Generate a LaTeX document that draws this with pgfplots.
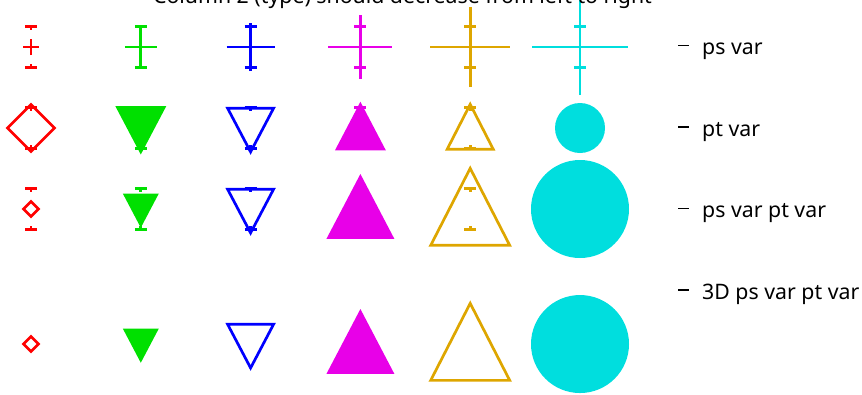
\documentclass[border=0pt]{standalone}
\usepackage{fontspec}
\setmainfont{Noto Sans}
\usepackage{pgfplots}
\pgfplotsset{compat=1.18}

\definecolor{cred}{RGB}{255,0,0}
\definecolor{cgreen}{RGB}{0,224,0}
\definecolor{cblue}{RGB}{0,0,255}
\definecolor{cmag}{RGB}{232,0,232}
\definecolor{corange}{RGB}{222,166,0}
\definecolor{ccyan}{RGB}{0,222,222}

% gnuplot-like point types, mark size = half width
\pgfdeclareplotmark{gplus}{%
  \pgfpathmoveto{\pgfpoint{-\pgfplotmarksize}{0pt}}%
  \pgfpathlineto{\pgfpoint{\pgfplotmarksize}{0pt}}%
  \pgfpathmoveto{\pgfpoint{0pt}{-\pgfplotmarksize}}%
  \pgfpathlineto{\pgfpoint{0pt}{\pgfplotmarksize}}%
  \pgfusepathqstroke}
\pgfdeclareplotmark{gdiamond}{%
  \pgfpathmoveto{\pgfpoint{0pt}{\pgfplotmarksize}}%
  \pgfpathlineto{\pgfpoint{\pgfplotmarksize}{0pt}}%
  \pgfpathlineto{\pgfpoint{0pt}{-\pgfplotmarksize}}%
  \pgfpathlineto{\pgfpoint{-\pgfplotmarksize}{0pt}}%
  \pgfpathclose\pgfusepathqstroke}
\def\downpath{%
  \pgfpathmoveto{\pgfpoint{-\pgfplotmarksize}{0.86\pgfplotmarksize}}%
  \pgfpathlineto{\pgfpoint{\pgfplotmarksize}{0.86\pgfplotmarksize}}%
  \pgfpathlineto{\pgfpoint{0pt}{-1.04\pgfplotmarksize}}%
  \pgfpathclose}
\def\uppath#1{%
  \pgfpathmoveto{\pgfpoint{-\pgfplotmarksize}{-#1\pgfplotmarksize}}%
  \pgfpathlineto{\pgfpoint{\pgfplotmarksize}{-#1\pgfplotmarksize}}%
  \pgfpathlineto{\pgfpoint{0pt}{1.03\pgfplotmarksize}}%
  \pgfpathclose}
\pgfdeclareplotmark{gdown}{\downpath\pgfusepathqstroke}
\pgfdeclareplotmark{gdownf}{\downpath\pgfusepathqfill}
\pgfdeclareplotmark{gup}{\uppath{0.92}\pgfusepathqstroke}
\pgfdeclareplotmark{gupf}{\uppath{0.88}\pgfusepathqfill}
\pgfdeclareplotmark{gcirc}{%
  \pgfpathcircle{\pgfpointorigin}{\pgfplotmarksize}\pgfusepathqfill}
% error bar caps with a short stub towards the point
\pgfdeclareplotmark{captop}{%
  \pgfpathmoveto{\pgfpoint{-6pt}{0pt}}\pgfpathlineto{\pgfpoint{6pt}{0pt}}%
  \pgfpathmoveto{\pgfpointorigin}\pgfpathlineto{\pgfpoint{0pt}{-3pt}}%
  \pgfusepathqstroke}
\pgfdeclareplotmark{capbot}{%
  \pgfpathmoveto{\pgfpoint{-6pt}{0pt}}\pgfpathlineto{\pgfpoint{6pt}{0pt}}%
  \pgfpathmoveto{\pgfpointorigin}\pgfpathlineto{\pgfpoint{0pt}{3pt}}%
  \pgfusepathqstroke}
\pgfdeclareplotmark{captopL}{%
  \pgfpathmoveto{\pgfpoint{-6pt}{0pt}}\pgfpathlineto{\pgfpoint{6pt}{0pt}}%
  \pgfpathmoveto{\pgfpointorigin}\pgfpathlineto{\pgfpoint{0pt}{-6pt}}%
  \pgfusepathqstroke}
\pgfdeclareplotmark{capbotL}{%
  \pgfpathmoveto{\pgfpoint{-6pt}{0pt}}\pgfpathlineto{\pgfpoint{6pt}{0pt}}%
  \pgfpathmoveto{\pgfpointorigin}\pgfpathlineto{\pgfpoint{0pt}{6pt}}%
  \pgfusepathqstroke}

\pgfplotsset{pt/.style={only marks, line width=2.7pt,
  mark options={solid, line join=miter}}}

\begin{document}
\begin{tikzpicture}[x=1pt,y=1pt]
\begin{axis}[
    width=862pt, height=394pt, scale only axis,
    hide axis, clip=false,
    xmin=0.71767, xmax=8.5683,
    ymin=0.41975, ymax=5.28395,
    y dir=reverse,
]
% error bar caps (rows 1-3)
\addplot[pt, cred, mark=captop] coordinates {(1,0.747) (1,1.747) (1,2.747)};
\addplot[pt, cred, mark=capbot] coordinates {(1,1.253) (1,2.253) (1,3.253)};
\addplot[pt, cgreen, mark=captopL] coordinates {(2,0.747)};
\addplot[pt, cgreen, mark=capbotL] coordinates {(2,1.253)};
\addplot[pt, cgreen, mark=captop] coordinates {(2,1.747) (2,2.747)};
\addplot[pt, cgreen, mark=capbot] coordinates {(2,2.253) (2,3.253)};
\addplot[pt, cblue, mark=captop] coordinates {(3,0.747) (3,1.747) (3,2.747)};
\addplot[pt, cblue, mark=capbot] coordinates {(3,1.253) (3,2.253) (3,3.253)};
\addplot[pt, cmag, mark=captop] coordinates {(4,0.747) (4,1.747) (4,2.747)};
\addplot[pt, cmag, mark=capbot] coordinates {(4,1.253) (4,2.253) (4,3.253)};
\addplot[pt, corange, mark=captop] coordinates {(5,0.747) (5,1.747) (5,2.747)};
\addplot[pt, corange, mark=capbot] coordinates {(5,1.253) (5,2.253) (5,3.253)};
\addplot[pt, ccyan, mark=captop] coordinates {(6,0.747) (6,1.747) (6,2.747)};
\addplot[pt, ccyan, mark=capbot] coordinates {(6,1.253) (6,2.253) (6,3.253)};

% row 1: ps var
\addplot[pt, cred,    mark=gplus, mark size=8pt]  coordinates {(1,1)};
\addplot[pt, cgreen,  mark=gplus, mark size=16pt] coordinates {(2,1)};
\addplot[pt, cblue,   mark=gplus, mark size=24pt] coordinates {(3,1)};
\addplot[pt, cmag,    mark=gplus, mark size=32pt] coordinates {(4,1)};
\addplot[pt, corange, mark=gplus, mark size=40pt] coordinates {(5,1)};
\addplot[pt, ccyan,   mark=gplus, mark size=48pt] coordinates {(6,1)};

% row 2: pt var
\addplot[pt, cred,    mark=gdiamond, mark size=23.5pt] coordinates {(1,2)};
\addplot[pt, cgreen,  mark=gdownf,   mark size=25.5pt] coordinates {(2,2)};
\addplot[pt, cblue,   mark=gdown,    mark size=23pt]   coordinates {(3,2)};
\addplot[pt, cmag,    mark=gupf,     mark size=25.5pt] coordinates {(4,2)};
\addplot[pt, corange, mark=gup,      mark size=23pt]   coordinates {(5,2)};
\addplot[pt, ccyan,   mark=gcirc,    mark size=25pt]   coordinates {(6,2)};

% row 3: ps var pt var
\addplot[pt, cred,    mark=gdiamond, mark size=7.5pt]  coordinates {(1,3)};
\addplot[pt, cgreen,  mark=gdownf,   mark size=18pt]   coordinates {(2,3)};
\addplot[pt, cblue,   mark=gdown,    mark size=23pt]   coordinates {(3,3)};
\addplot[pt, cmag,    mark=gupf,     mark size=34pt]   coordinates {(4,3)};
\addplot[pt, corange, mark=gup,      mark size=39.5pt] coordinates {(5,3)};
\addplot[pt, ccyan,   mark=gcirc,    mark size=49pt]   coordinates {(6,3)};

% row 4: 3D ps var pt var
\addplot[pt, cred,    mark=gdiamond, mark size=7.5pt]  coordinates {(1,4.667)};
\addplot[pt, cgreen,  mark=gdownf,   mark size=18pt]   coordinates {(2,4.667)};
\addplot[pt, cblue,   mark=gdown,    mark size=23pt]   coordinates {(3,4.667)};
\addplot[pt, cmag,    mark=gupf,     mark size=34pt]   coordinates {(4,4.667)};
\addplot[pt, corange, mark=gup,      mark size=39.5pt] coordinates {(5,4.667)};
\addplot[pt, ccyan,   mark=gcirc,    mark size=49pt]   coordinates {(6,4.667)};
\end{axis}

\begin{scope}[font=\fontsize{21.3}{25}\selectfont]
\node[anchor=base, inner sep=0pt] at (402.5,390) {Column 2 (type) should decrease from left to right};
\foreach \yb/\lab in {55/ps var, 136.5/pt var, 218/ps var pt var, 299.5/3D ps var pt var}{
  \draw[line width=1.5pt] (678,394-\yb+9.5) -- (689,394-\yb+9.5);
  \node[anchor=base west, inner sep=0pt] at (702,394-\yb) {\lab};
}
\end{scope}
\pgfresetboundingbox
\useasboundingbox (0,0) rectangle (862,394);
\end{tikzpicture}
\end{document}
